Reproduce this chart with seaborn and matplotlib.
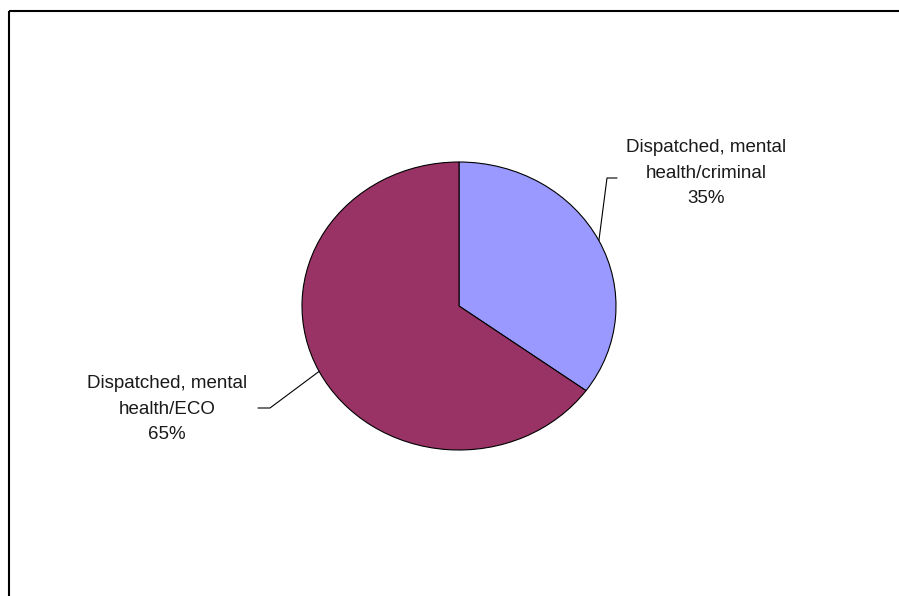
import numpy as np
import matplotlib
matplotlib.use("Agg")
import matplotlib.pyplot as plt
import seaborn as sns
from matplotlib.patches import Rectangle

categories = ["Dispatched, mental\nhealth/criminal", "Dispatched, mental\nhealth/ECO"]
values = [35, 65]
colors = ["#9999FF", "#993366"]

sns.set_theme(style="white")
plt.rcParams['font.family'] = ['Liberation Sans', 'DejaVu Sans']

W, H = 899, 596
fig = plt.figure(figsize=(W / 100, H / 100), dpi=100)
fig.patch.set_facecolor("white")

# overlay axes in pixel coordinates
ov = fig.add_axes([0, 0, 1, 1])
ov.set_xlim(0, W)
ov.set_ylim(H, 0)
ov.axis("off")
ov.add_patch(Rectangle((8.5, 11), W + 20, H + 20, fill=False, edgecolor="black", lw=1.5))

# pie axes (elliptical)
cx, cy, rx, ry = 459, 306, 157, 144
pax = fig.add_axes([(cx - rx) / W, 1 - (cy + ry) / H, 2 * rx / W, 2 * ry / H])
pax.pie(values, colors=colors, startangle=90, counterclock=False,
        wedgeprops=dict(edgecolor="black", linewidth=0.8))
pax.set_xlim(-1, 1)
pax.set_ylim(-1, 1)
pax.set_aspect("auto")
pax.axis("off")

# labels with leader lines
total = sum(values)
start = 90.0
label_pos = [(706, 173, +1), (167, 409, -1)]
for v, cat, (lx, ly, side) in zip(values, categories, label_pos):
    frac = v / total
    mid = np.deg2rad(start - frac * 360 / 2)
    start -= frac * 360
    px = cx + rx * np.cos(mid)
    py = cy - ry * np.sin(mid)
    if side > 0:
        ov.plot([px, 607, 617], [py, 178, 178], color="black", lw=0.8)
    else:
        ov.plot([px, 270, 258], [py, 408, 408], color="black", lw=0.8)
    ov.text(lx, ly, f"{cat}\n{v}%", ha="center", va="center", fontsize=13.5,
            color="#1a1a1a", linespacing=1.65)

fig.savefig("out.png", dpi=100)
